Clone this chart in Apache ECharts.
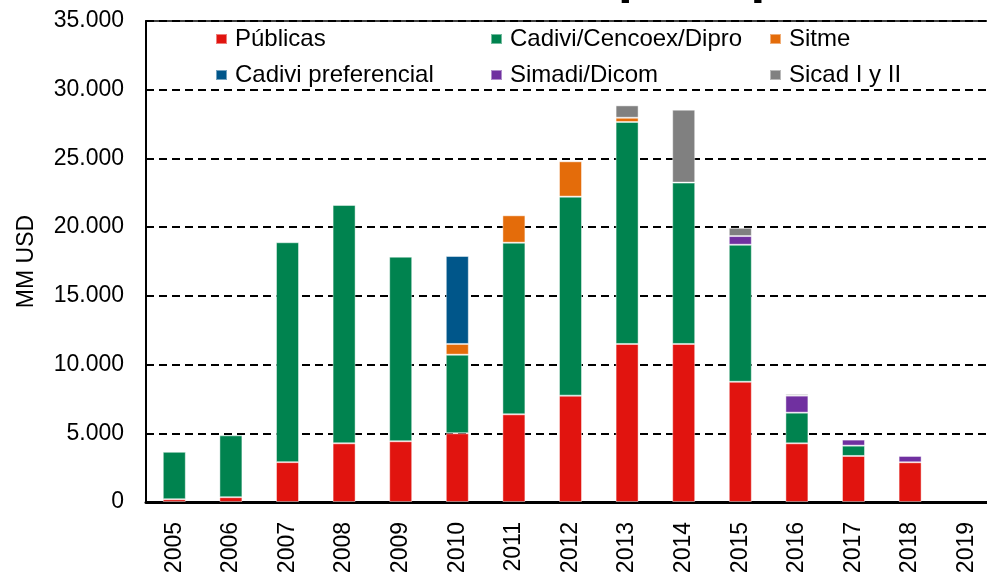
<!DOCTYPE html>
<html>
<head>
<meta charset="utf-8">
<script src="https://cdn.jsdelivr.net/npm/echarts@6/dist/echarts.min.js"></script>
<style>
  html, body { margin: 0; padding: 0; background: #fff; }
  #chart { width: 987px; height: 575px; }
</style>
</head>
<body>
<div id="chart"></div>
<script>
const years = ["2005", "2006", "2007", "2008", "2009", "2010", "2011", "2012", "2013", "2014", "2015", "2016", "2017", "2018", "2019"];

// MM USD per year
const publicas = [200, 350, 2900, 4270, 4420, 5000, 6380, 7740, 11500, 11500, 8750, 4270, 3350, 2890, null];
const cadivi = [3450, 4500, 16000, 17340, 13430, 5720, 12490, 14480, 16150, 11740, 9970, 2230, 750, null, null];
const sitme = [null, null, null, null, null, 780, 1990, 2570, 310, null, null, null, null, null, null];
const cadiviPref = [null, null, null, null, null, 6400, null, null, null, null, null, null, null, null, null];
const simadi = [null, null, null, null, null, null, null, null, null, null, 630, 1240, 440, 460, null];
const sicad = [null, null, null, null, null, null, null, null, 900, 5310, 600, 120, null, null, null];

const yTicks = [0, 5000, 10000, 15000, 20000, 25000, 30000, 35000];

const font = '"Liberation Sans", Arial, sans-serif';

const seriesDefs = [
  { name: "Públicas", data: publicas, color: "#E1140F" },
  { name: "Cadivi/Cencoex/Dipro", data: cadivi, color: "#00834F" },
  { name: "Sitme", data: sitme, color: "#E46C0A" },
  { name: "Cadivi preferencial", data: cadiviPref, color: "#00568A" },
  { name: "Simadi/Dicom", data: simadi, color: "#7030A0" },
  { name: "Sicad I y II", data: sicad, color: "#808080" },
];

function legendColumn(left, names) {
  return {
    orient: "vertical",
    left: left,
    top: 27,
    padding: 0,
    itemGap: 12,
    itemWidth: 11,
    itemHeight: 10,
    icon: "rect",
    selectedMode: false,
    data: names,
    textStyle: { fontFamily: font, fontSize: 24, color: "#000", lineHeight: 22, padding: [0, 0, 0, 3] },
  };
}

const chart = echarts.init(document.getElementById("chart"), null, { renderer: "canvas" });
chart.setOption({
  animation: false,
  backgroundColor: "#fff",
  graphic: [
    {
      type: "text",
      style: { text: "Divisas autorizadas", x: 604, y: -23, textAlign: "right", verticalAlign: "middle",
        font: 'bold 53px "Liberation Sans", Arial, sans-serif', fill: "#000" },
    },
    {
      type: "text",
      style: { text: "por tipo de cambio", x: 618, y: -23, textAlign: "left", verticalAlign: "middle",
        font: 'bold 53px "Liberation Sans", Arial, sans-serif', fill: "#000" },
    },
  ],
  legend: [
    legendColumn(215, ["Públicas", "Cadivi preferencial"]),
    legendColumn(490, ["Cadivi/Cencoex/Dipro", "Simadi/Dicom"]),
    legendColumn(769, ["Sitme", "Sicad I y II"]),
  ],
  grid: {
    left: 146, top: 21, bottom: 73, width: 849,
    outerBoundsMode: "none",
    show: true, borderColor: "#000", borderWidth: 1.5,
  },
  xAxis: {
    type: "category",
    data: years,
    axisLine: { lineStyle: { color: "#000", width: 3 } },
    axisTick: { show: false },
    axisLabel: { rotate: 90, margin: 20, fontFamily: font, fontSize: 23, color: "#000" },
  },
  yAxis: {
    type: "value",
    min: 0,
    max: 35000,
    interval: 5000,
    name: "MM USD",
    nameLocation: "middle",
    nameGap: 108,
    nameTextStyle: { fontFamily: font, fontSize: 23, color: "#000" },
    axisLine: { show: true, lineStyle: { color: "#000", width: 2 } },
    axisTick: { show: true, inside: true, length: 4, lineStyle: { color: "#000", width: 2 } },
    axisLabel: {
      margin: 22,
      fontFamily: font,
      fontSize: 23,
      color: "#000",
      formatter: (v) => (yTicks.includes(v) ? String(v).replace(/\B(?=(\d{3})+(?!\d))/g, ".") : ""),
    },
    splitLine: { lineStyle: { color: "#000", width: 2, type: [8, 5] } },
  },
  series: seriesDefs.map((s) => ({
    name: s.name,
    type: "bar",
    stack: "total",
    barWidth: 23,
    data: s.data,
    itemStyle: { color: s.color, borderColor: "rgba(255,255,255,0.45)", borderWidth: 1 },
  })),
});
</script>
</body>
</html>
